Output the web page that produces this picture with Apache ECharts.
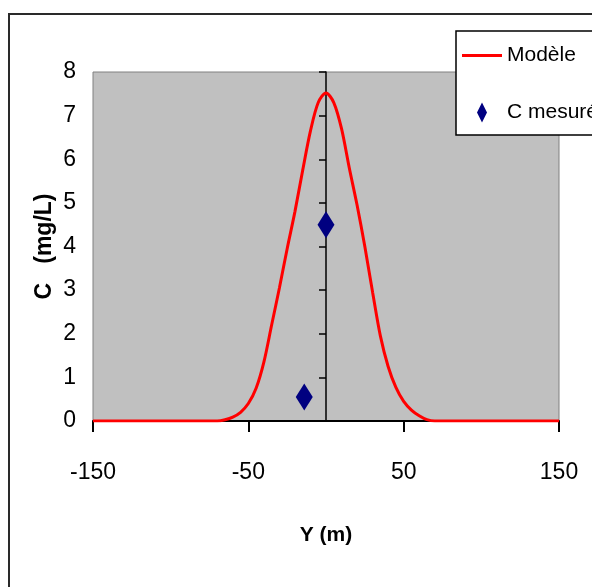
<!DOCTYPE html>
<html>
<head>
<meta charset="utf-8">
<script src="https://cdn.jsdelivr.net/npm/echarts@6/dist/echarts.min.js"></script>
<style>
html,body{margin:0;padding:0;background:#fff;}
#chart{width:592px;height:587px;}
</style>
</head>
<body>
<div id="chart"></div>
<script>
// Data
const modelX = [-150, -70, -65, -60, -55, -50, -45, -40, -35, -30, -25, -20, -15, -10, -5, 0, 5, 10, 15, 20, 25, 30, 35, 40, 45, 50, 55, 60, 65, 70, 150];
const modelC = [0, 0, 0.03, 0.09, 0.2, 0.4, 0.75, 1.35, 2.2, 3.05, 3.95, 4.8, 5.75, 6.65, 7.3, 7.52, 7.3, 6.7, 5.8, 4.95, 4.0, 2.95, 1.95, 1.25, 0.77, 0.45, 0.25, 0.12, 0.03, 0, 0];
const measX = [0, -14];
const measC = [4.5, 0.55];
const seriesNames = ['Modèle', 'C mesurée'];
const xTitle = 'Y (m)';
const yTitle = 'C   (mg/L)';

const FONT = "'Liberation Sans', Arial, sans-serif";

const chart = echarts.init(document.getElementById('chart'));
chart.setOption({
  animation: false,
  backgroundColor: '#ffffff',
  graphic: [{
    type: 'rect',
    shape: { x: 9, y: 14, width: 700, height: 700 },
    style: { fill: 'none', stroke: '#2a2a2a', lineWidth: 2 },
    z: -1
  }],
  grid: {
    left: 93, right: 33, top: 72, bottom: 166,
    show: true, backgroundColor: '#C0C0C0', borderColor: '#808080', borderWidth: 1
  },
  legend: {
    orient: 'vertical',
    left: 456, top: 31,
    padding: [14, 12, 12, 6],
    itemGap: 36,
    itemWidth: 40, itemHeight: 20,
    backgroundColor: '#ffffff',
    borderColor: '#000000', borderWidth: 1.5, borderRadius: 0,
    textStyle: { fontFamily: FONT, fontSize: 21, color: '#000000', padding: [0, 0, 0, 0] },
    data: [
      { name: seriesNames[0], icon: 'path://M0,0 H40 V3 H0 Z' },
      { name: seriesNames[1], icon: 'path://M5,0 L10,10 L5,20 L0,10 Z' }
    ]
  },
  xAxis: {
    type: 'value',
    min: -150, max: 150, interval: 100,
    name: xTitle, nameLocation: 'middle', nameGap: 104,
    nameTextStyle: { fontFamily: FONT, fontSize: 21, fontWeight: 'bold', color: '#000' },
    axisLine: { show: true, onZero: false, lineStyle: { color: '#000', width: 2 } },
    axisTick: { show: true, length: 11, lineStyle: { color: '#000', width: 2 } },
    axisLabel: { fontFamily: FONT, fontSize: 23, color: '#000', margin: 40 },
    splitLine: { show: false }
  },
  yAxis: [{
    type: 'value',
    min: 0, max: 8, interval: 1,
    position: 'left',
    name: yTitle, nameLocation: 'middle', nameGap: 37, nameMoveOverlap: false,
    nameTextStyle: { fontFamily: FONT, fontSize: 23, fontWeight: 'bold', color: '#000' },
    axisLine: { show: false },
    axisTick: { show: false },
    axisLabel: { fontFamily: FONT, fontSize: 23, color: '#000', margin: 17 },
    splitLine: { show: false }
  }, {
    type: 'value',
    min: 0, max: 8, interval: 1,
    position: 'left',
    offset: -233,
    axisLine: { show: true, onZero: false, lineStyle: { color: '#000', width: 1.5 } },
    axisTick: { show: true, length: 7, lineStyle: { color: '#000', width: 1.5 } },
    axisLabel: { show: false },
    splitLine: { show: false }
  }],
  series: [{
    name: seriesNames[0],
    type: 'line',
    yAxisIndex: 0,
    data: modelX.map((x, i) => [x, modelC[i]]),
    smooth: 0.3,
    symbol: 'none',
    lineStyle: { color: '#FF0000', width: 3 },
    itemStyle: { color: '#FF0000' },
    z: 3
  }, {
    name: seriesNames[1],
    type: 'scatter',
    yAxisIndex: 0,
    data: measX.map((x, i) => [x, measC[i]]),
    symbol: 'diamond',
    symbolSize: [17, 27],
    itemStyle: { color: '#000080', opacity: 1 },
    z: 4
  }]
});
</script>
</body>
</html>
